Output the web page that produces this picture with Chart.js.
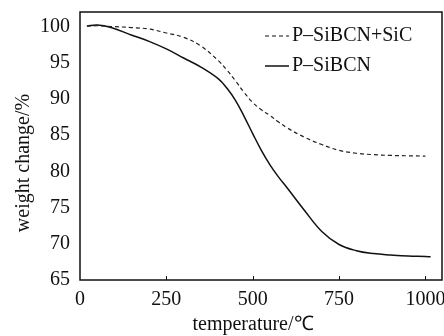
<!DOCTYPE html>
<html>
<head>
<meta charset="utf-8">
<script src="https://cdn.jsdelivr.net/npm/chart.js@4/dist/chart.umd.min.js"></script>
<style>
  html, body { margin: 0; padding: 0; background: #fff; }
  #wrap { width: 444px; height: 336px; }
</style>
</head>
<body>
<div id="wrap"><canvas id="tga"></canvas></div>
<script>
// temperature in degC
var temps = [20, 50, 90, 150, 200, 250, 300, 350, 400, 425, 450, 475, 500, 525, 550, 575, 600, 650, 700, 750, 800, 850, 900, 950, 1000, 1015];
// weight change in %
var sicValues = [100.05, 100.1, 100.0, 99.85, 99.65, 99.1, 98.5, 97.3, 95.3, 94.0, 92.5, 90.9, 89.5, 88.5, 87.7, 86.8, 86.0, 84.7, 83.7, 82.9, 82.5, 82.3, 82.2, 82.15, 82.1, null];
var baseValues = [100.05, 100.2, 99.85, 98.8, 97.95, 96.9, 95.65, 94.4, 92.8, 91.5, 89.8, 87.6, 85.2, 82.9, 80.9, 79.2, 77.7, 74.6, 71.7, 69.9, 69.05, 68.65, 68.45, 68.3, 68.25, 68.2];
var seriesNames = ["P\u2013SiBCN+SiC", "P\u2013SiBCN"];
var xTicks = [0, 250, 500, 750, 1000];
var yTicks = [65, 70, 75, 80, 85, 90, 95, 100];
var xTitle = "temperature/\u2103";
var yTitle = "weight change/%";

var serif = "'Liberation Serif', 'Times New Roman', serif";

function toPoints(vals) {
	var pts = [];
	for (var i in temps) {
		pts.push({x: temps[i], y: vals[i]});
	}
	return pts;
}

// frame, inner ticks, titles and legend
var framePlugin = {
	id: 'frame',
	afterDraw: function(chart) {
		var ctx = chart.ctx;
		var a = chart.chartArea;
		var xs = chart.scales.x;
		ctx.save();
		ctx.strokeStyle = '#111';
		ctx.lineWidth = 1.5;
		ctx.strokeRect(a.left, a.top, a.right - a.left, a.bottom - a.top);

		ctx.lineWidth = 1;
		for (var i = 1; i < xTicks.length; i++) {
			var px = Math.round(xs.getPixelForValue(xTicks[i])) + 0.5;
			ctx.beginPath();
			ctx.moveTo(px, a.bottom);
			ctx.lineTo(px, a.bottom - 4);
			ctx.stroke();
		}

		ctx.fillStyle = '#111';
		ctx.font = '20px ' + serif;
		ctx.textAlign = 'center';
		ctx.textBaseline = 'middle';
		ctx.fillText(xTitle, 253, 325);

		ctx.save();
		ctx.translate(24, 163);
		ctx.rotate(-Math.PI / 2);
		ctx.fillText(yTitle, 0, 0);
		ctx.restore();

		// legend
		var rows = [36, 66];
		ctx.font = '20px ' + serif;
		ctx.textAlign = 'left';
		for (var k = 0; k < chart.data.datasets.length; k++) {
			var ds = chart.data.datasets[k];
			ctx.lineWidth = ds.borderWidth;
			ctx.setLineDash(ds.borderDash || []);
			ctx.beginPath();
			ctx.moveTo(265, rows[k]);
			ctx.lineTo(289, rows[k]);
			ctx.stroke();
			ctx.setLineDash([]);
			ctx.fillText(ds.label, 292, rows[k]);
		}
		ctx.restore();
	}
};

var chartdata = {
	datasets: [
		{
			label: seriesNames[0],
			data: toPoints(sicValues),
			borderColor: '#222',
			borderWidth: 1.2,
			borderDash: [4, 3],
			pointRadius: 0,
			fill: false,
			tension: 0.4
		},
		{
			label: seriesNames[1],
			data: toPoints(baseValues),
			borderColor: '#111',
			borderWidth: 1.5,
			pointRadius: 0,
			fill: false,
			tension: 0.4
		}
	]
};

var options = {
	responsive: true,
	maintainAspectRatio: false,
	animation: false,
	layout: { padding: { top: 12, right: 2, left: 0, bottom: 0 } },
	plugins: {
		legend: { display: false },
		tooltip: { enabled: false }
	},
	scales: {
		x: {
			type: 'linear',
			min: 0,
			max: 1048,
			afterFit: function(scale) {
				scale.height = 56;
				scale.paddingLeft = 0;
				scale.paddingRight = 0;
			},
			afterBuildTicks: function(scale) {
				scale.ticks = xTicks.map(function(v) { return {value: v}; });
			},
			grid: { display: false, drawTicks: false },
			border: { display: false },
			ticks: {
				color: '#111',
				padding: 8,
				maxRotation: 0,
				font: { family: serif, size: 20 },
				callback: function(v) { return String(v); }
			}
		},
		y: {
			min: 65,
			max: 102,
			afterFit: function(scale) {
				scale.width = 80;
				scale.paddingTop = 0;
				scale.paddingBottom = 0;
			},
			afterBuildTicks: function(scale) {
				scale.ticks = yTicks.map(function(v) { return {value: v}; });
			},
			grid: { display: false, drawTicks: false },
			border: { display: false },
			ticks: {
				color: '#111',
				padding: 10,
				font: { family: serif, size: 20 },
				callback: function(v) { return String(v); }
			}
		}
	}
};

var ctx = document.getElementById('tga');
var tgaChart = new Chart(ctx, {
	type: 'line',
	data: chartdata,
	options: options,
	plugins: [framePlugin]
});
</script>
</body>
</html>
